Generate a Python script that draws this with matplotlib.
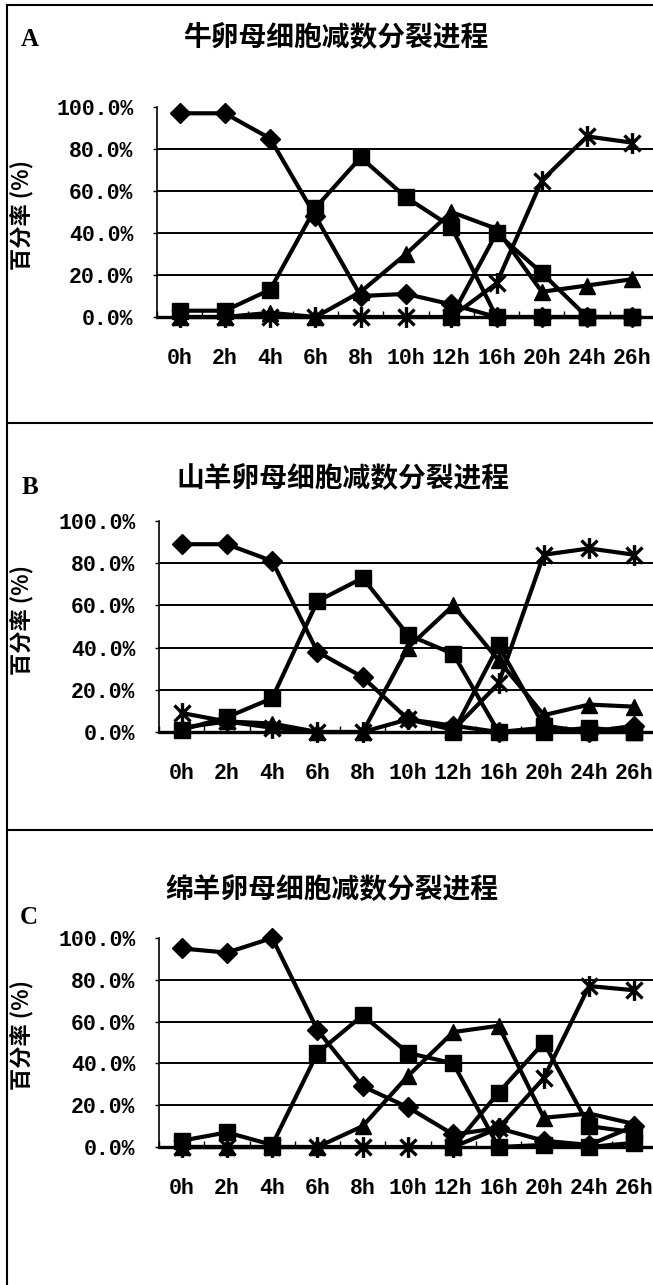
import numpy as np
import matplotlib
matplotlib.use('Agg')
from matplotlib import pyplot as plt
from matplotlib.path import Path
from matplotlib.lines import Line2D

nan = np.nan

hours = ['0h', '2h', '4h', '6h', '8h', '10h', '12h', '16h', '20h', '24h', '26h']
yticks = [0, 20, 40, 60, 80, 100]
ytick_labels = ['0.0%', '20.0%', '40.0%', '60.0%', '80.0%', '100.0%']

titles = ['牛卵母细胞减数分裂进程', '山羊卵母细胞减数分裂进程', '绵羊卵母细胞减数分裂进程']
letters = ['A', 'B', 'C']
ylabel = '百分率 (%)'

# 牛
cow_gv = [97, 97, 85, 48, 10, 11, 6, 0, 0, 0, 0]
cow_gvbd = [3, 3, 13, 52, 76, 57, 43, 0, 0, 0, 0]
cow_mi = [0, 0, 2, 0, 12, 30, 50, 42, 12, 15, 18]
cow_ati = [nan, nan, nan, nan, nan, nan, 0, 40, 21, 0, 0]
cow_mii = [0, 0, 0, 0, 0, 0, 0, 16, 65, 86, 83]

# 山羊
goat_gv = [89, 89, 81, 38, 26, 6, 3, 0, 2, 0, 3]
goat_gvbd = [1, 7, 16, 62, 73, 46, 37, 0, 0, 2, 0]
goat_mi = [2, 5, 4, 0, 0, 40, 60, 34, 8, 13, 12]
goat_ati = [nan, nan, nan, nan, nan, nan, 0, 41, 3, 0, 0]
goat_mii = [9, 5, 2, 0, 0, 6, 1, 23, 84, 87, 84]

# 绵羊
sheep_gv = [95, 93, 100, 56, 29, 19, 6, 9, 3, 1, 10]
sheep_gvbd = [3, 7, 1, 45, 63, 45, 40, 0, 1, 0, 2]
sheep_mi = [0, 0, 0, 0, 10, 34, 55, 58, 14, 16, 11]
sheep_ati = [nan, nan, nan, nan, nan, nan, 0, 26, 50, 10, 7]
sheep_mii = [0, 0, 0, 0, 0, 0, 0, 9, 33, 77, 75]

panels = [
    [cow_gv, cow_gvbd, cow_mi, cow_ati, cow_mii],
    [goat_gv, goat_gvbd, goat_mi, goat_ati, goat_mii],
    [sheep_gv, sheep_gvbd, sheep_mi, sheep_ati, sheep_mii],
]

# excel style star: an X with a vertical bar
star = Path([(-1, -1), (1, 1), (-1, 1), (1, -1), (0, -1.3), (0, 1.3)],
            [Path.MOVETO, Path.LINETO, Path.MOVETO, Path.LINETO, Path.MOVETO, Path.LINETO])
markers = [('D', 10), ('s', 11.5), ('^', 11.5), ('s', 11.5), (star, 15)]

W, H = 653, 1285
fig = plt.figure(figsize=(W / 100, H / 100), dpi=100)

cjk = ['Noto Sans CJK SC', 'DejaVu Sans']
num_font = dict(family='Liberation Mono', weight='bold', size=15.5)

# axes boxes in pixels: left, top, bottom
boxes = [(157, 107, 317), (159, 521, 732), (159, 938, 1147)]
title_pos = [(336, 38), (343, 479), (332, 890)]
letter_pos = [(30, 40), (30, 488), (29, 917)]
ylabel_y = [215, 620, 1035]

x = np.arange(len(hours))
for i, (left, top, bottom) in enumerate(boxes):
    ax = fig.add_axes([left / W, 1 - bottom / H, 498 / W, (bottom - top) / H])
    for vals, (m, ms) in zip(panels[i], markers):
        ax.plot(x, vals, color='black', lw=3, marker=m, ms=ms,
                mew=2.4 if m is star else 1, mfc='black', mec='black', clip_on=False)
    ax.set_xlim(-0.5, len(hours) - 0.5)
    ax.set_ylim(0, 100)
    for g in [20, 40, 60, 80]:
        ax.axhline(g, color='black', lw=1.4, zorder=0)
    ax.spines['top'].set_visible(False)
    ax.spines['right'].set_visible(False)
    ax.spines['left'].set_linewidth(1.2)
    ax.spines['bottom'].set_linewidth(2.4)
    ax.set_yticks(yticks)
    ax.set_yticklabels(ytick_labels, **num_font)
    ax.tick_params(axis='y', length=3, width=1, pad=14)
    ax.set_xticks(x)
    ax.set_xticklabels(hours, **num_font)
    ax.tick_params(axis='x', length=0, pad=22)
    ax.set_xticks(np.arange(len(hours) + 1) - 0.5, minor=True)
    ax.tick_params(axis='x', which='minor', direction='in', length=4, width=1)

    fig.text(title_pos[i][0] / W, 1 - title_pos[i][1] / H, titles[i],
             family=cjk, weight='black', size=20, ha='center', va='center')
    fig.text(letter_pos[i][0] / W, 1 - letter_pos[i][1] / H, letters[i],
             family='Liberation Serif', weight='bold', size=18, ha='center', va='center')
    fig.text(22 / W, 1 - ylabel_y[i] / H, ylabel, family=cjk, weight='black',
             size=16, rotation=90, ha='center', va='center')

# outer frame and panel separators
frame = dict(color='black', lw=1.5)
fig.add_artist(Line2D([7 / W, 7 / W], [0, 1 - 5 / H], **frame))
fig.add_artist(Line2D([7 / W, 1], [1 - 5 / H, 1 - 5 / H], **frame))
for yy in [423, 830]:
    fig.add_artist(Line2D([7 / W, 1], [1 - yy / H, 1 - yy / H], **frame))

fig.savefig('out.png', dpi=100)
